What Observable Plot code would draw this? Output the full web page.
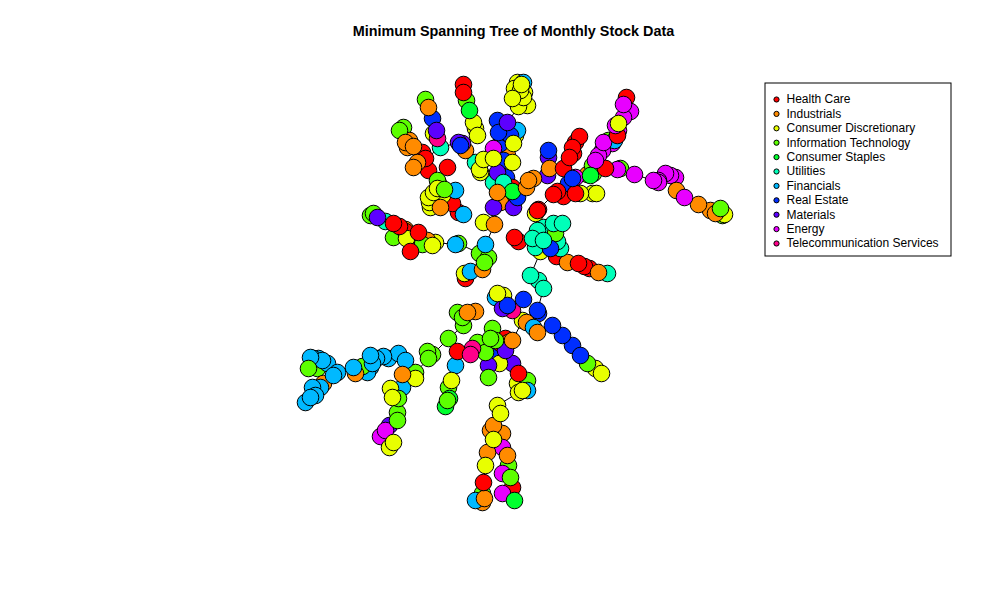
<!DOCTYPE html>
<html><head><meta charset="utf-8">
<script src="https://cdn.jsdelivr.net/npm/d3@7"></script>
<script src="https://cdn.jsdelivr.net/npm/@observablehq/plot@0.6"></script>
<style>body{margin:0;background:#fff;font-family:"Liberation Sans",Arial,sans-serif}</style>
</head><body><div id="chart"></div>
<script>
const chartTitle = "Minimum Spanning Tree of Monthly Stock Data";
const sectors = ["Health Care","Industrials","Consumer Discretionary","Information Technology","Consumer Staples","Utilities","Financials","Real Estate","Materials","Energy","Telecommunication Services"];
const sectorColors = ["#FF0000","#FF8B00","#E8FF00","#5DFF00","#00FF2E","#00FFB9","#00B9FF","#002EFF","#5D00FF","#E800FF","#FF008B"];

// layout positions of each stock, by sector
const healthCare = [[463,84],[463,92],[447,167],[422,152],[425,158],[428,170],[452,203],[458,212],[512,187],
 [626,97],[617,135],[579,136],[575,142],[572,147],[573,153],[569,157],[563,168],[557,191],[553,194],[563,196],[575,193],[605,168],[537,210],
 [514,237],[518,241],[538,209],[556,256],[578,263],[584,266],[589,268],
 [393,223],[399,226],[405,231],[418,232],[410,251],[412,246],
 [465,278],[457,351],[500,343],[505,338],[518,373],[483,482],[512,487]];
const industrials = [[428,107],[409,140],[413,146],[407,147],[405,142],[417,162],[413,167],[440,207],[465,150],[498,188],[504,199],[507,155],[497,192],[500,202],
 [528,180],[533,178],[526,187],[549,168],[587,174],
 [676,190],[698,204],[710,210],[715,213],
 [494,224],[482,269],[567,262],[598,272],[405,229],[417,237],[427,240],
 [467,312],[475,311],[526,322],[537,332],[508,342],[512,340],[323,383],[402,374],[355,373],
 [493,425],[490,430],[502,433],[487,452],[507,455],[482,502],[484,498]];
const consumerDiscretionary = [[473,122],[475,128],[477,135],[514,88],[520,90],[523,97],[512,98],[518,106],[527,105],[517,82],[521,84],[524,92],
 [515,135],[513,143],[483,159],[479,169],[493,158],[512,162],[480,172],
 [433,192],[442,195],[429,202],[433,133],[428,197],[430,207],[437,188],
 [535,213],[580,193],[592,193],[596,193],[618,123],[724,214],
 [483,222],[540,251],[464,273],[435,242],[406,238],[432,245],
 [497,293],[503,295],[522,320],[499,363],[517,383],[518,392],[595,368],[601,373],[497,405],[500,413],[493,439],[485,465],[522,390],[451,380],[390,388],[392,397],[389,447],[393,442],[415,378]];
const informationTechnology = [[425,99],[466,100],[399,130],[403,127],[437,180],[438,183],[444,189],[515,100],[513,192],[555,233],[608,140],[592,165],[593,173],[620,168],[720,208],[722,215],
 [370,215],[373,213],[393,237],[422,244],[479,253],[488,257],[458,243],[484,262],
 [457,312],[462,317],[463,325],[448,338],[427,351],[432,354],[428,358],[308,368],[317,368],[415,372],[362,366],[398,398],[397,412],[397,420],
 [477,342],[490,338],[492,328],[485,352],[495,340],[488,377],[448,387],[447,400],[508,465],[482,493],[587,363],[527,380],[510,477]];
const consumerStaples = [[469,110],[590,175],[445,406],[449,398],[514,500],[512,191]];
const utilities = [[440,147],[475,162],[493,182],[503,182],[385,221],
 [543,227],[553,223],[562,223],[548,233],[543,240],[532,238],[535,247],[560,248],[537,230],[557,241],
 [607,273],[530,275],[538,280],[543,288]];
const financials = [[523,82],[517,130],[455,190],[463,214],[455,244],[485,244],[470,271],[495,297],[527,390],[533,327],[455,365],[614,140],
 [405,360],[398,353],[388,358],[383,356],[376,358],[370,355],[370,367],[367,372],[353,367],[360,370],[372,363],
 [313,358],[310,357],[318,358],[322,360],[327,363],[333,375],[337,372],[312,387],[320,387],[310,397],[305,402],[315,395],[402,387],[475,500]];
const realEstate = [[432,118],[497,120],[498,132],[510,135],[507,133],[500,143],[503,160],[506,177],[517,197],[460,145],
 [548,150],[568,183],[572,178],[548,245],[550,248],
 [523,299],[537,310],[507,305],[538,313],[552,325],[562,335],[572,345],[580,355],[495,352]];
const materials = [[436,130],[458,142],[462,143],[507,122],[497,172],[493,207],[513,207],[548,157],[547,175],[505,350],[512,363],[488,365],[389,425],[377,217],[502,308]];
const energy = [[623,104],[630,111],[623,117],[615,125],[618,130],[612,143],[603,142],[602,150],[598,155],[595,160],[575,177],[617,169],
 [634,174],[653,180],[658,180],[665,173],[675,177],[658,182],[684,197],[670,175],
 [493,148],[380,436],[385,430],[502,447],[502,473],[502,493]];
const telecom = [[437,138],[472,348],[470,354],[512,310]];

const groups = [healthCare, industrials, consumerDiscretionary, informationTechnology, consumerStaples, utilities, financials, realEstate, materials, energy, telecom];
const nodes = groups.flatMap((pts, s) => pts.map(([x, y]) => ({x, y, sector: sectors[s]})));
const drawn = nodes.slice().sort((a, b) => ((a.x * 37 + a.y * 53) % 101) - ((b.x * 37 + b.y * 53) % 101));

// minimum spanning tree over the layout (Prim)
const n = nodes.length, inTree = new Array(n).fill(false), dist = new Array(n).fill(Infinity), par = new Array(n).fill(-1);
dist[0] = 0;
const edges = [];
for (let k = 0; k < n; k++) {
  let u = -1;
  for (let i = 0; i < n; i++) if (!inTree[i] && (u < 0 || dist[i] < dist[u])) u = i;
  inTree[u] = true;
  if (par[u] >= 0) edges.push({a: nodes[par[u]], b: nodes[u]});
  for (let v = 0; v < n; v++) if (!inTree[v]) {
    const d = Math.hypot(nodes[u].x - nodes[v].x, nodes[u].y - nodes[v].y);
    if (d < dist[v]) { dist[v] = d; par[v] = u; }
  }
}

const legendY = (d, i) => 99 + i * 14.4;
const chart = Plot.plot({
  width: 1000, height: 600, margin: 0,
  x: {domain: [0, 1000], range: [0, 1000], axis: null},
  y: {domain: [0, 600], range: [0, 600], axis: null},
  color: {domain: sectors, range: sectorColors},
  style: {background: "#fff", fontFamily: "'Liberation Sans', Arial, sans-serif", color: "#000"},
  marks: [
    Plot.link(edges, {x1: d => d.a.x, y1: d => d.a.y, x2: d => d.b.x, y2: d => d.b.y, stroke: "#000", strokeWidth: 1}),
    Plot.dot(drawn, {x: "x", y: "y", r: 8.3, fill: "sector", stroke: "#000", strokeWidth: 1}),
    Plot.text([chartTitle], {x: 513, y: 31, text: d => d, fontSize: 14.4, fontWeight: "bold", fill: "#000"}),
    Plot.rect([0], {x1: 765, x2: 951, y1: 83, y2: 256, fill: "none", stroke: "#000", strokeWidth: 1}),
    Plot.dot(sectors, {x: 776, y: legendY, r: 2.6, fill: d => d, stroke: "#000", strokeWidth: 1}),
    Plot.text(sectors, {x: 786, y: legendY, text: d => d, textAnchor: "start", fontSize: 12, fill: "#000"})
  ]
});
document.getElementById("chart").appendChild(chart);
</script>
</body></html>
